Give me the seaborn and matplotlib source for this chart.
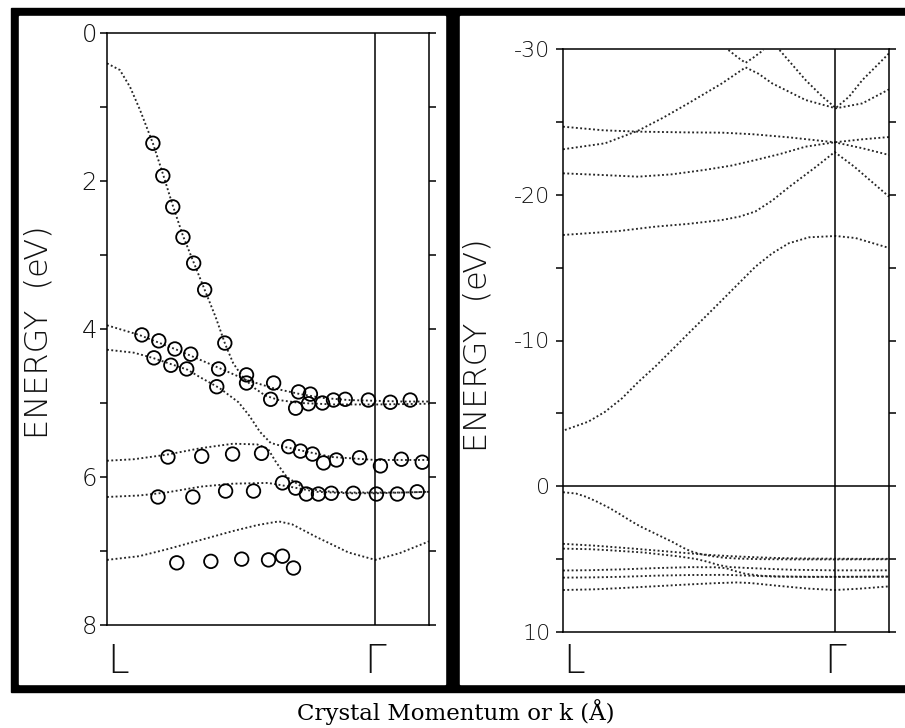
import numpy as np
import pandas as pd
import matplotlib
matplotlib.use("Agg")
import matplotlib.pyplot as plt
from matplotlib.patches import Rectangle
from matplotlib.ticker import MultipleLocator, FixedLocator
from matplotlib.transforms import blended_transform_factory
import seaborn as sns

# ---------------------------------------------------------------------------
# Band structure along L -> Gamma (k in units of the L-Gamma distance),
# energies in eV (binding-energy convention: positive = below the VBM).
# ---------------------------------------------------------------------------

# Valence bands (shared by both panels)
VB_STEEP_K = [0.0, 0.048, 0.086, 0.123, 0.171, 0.208, 0.245, 0.283, 0.323, 0.364,
              0.405, 0.44, 0.47, 0.50, 0.52, 0.55, 0.59, 0.64, 0.72, 0.85, 1.0, 1.2]
VB_STEEP_E = [0.41, 0.50, 0.73, 1.04, 1.49, 1.90, 2.33, 2.74, 3.10, 3.47,
              3.84, 4.20, 4.46, 4.62, 4.70, 4.80, 4.90, 4.96, 5.00, 5.02, 5.02, 5.01]

VB1_K = [0.0, 0.12, 0.26, 0.42, 0.52, 0.62, 0.72, 0.80, 0.90, 1.0, 1.1, 1.2]
VB1_E = [3.95, 4.08, 4.28, 4.53, 4.69, 4.80, 4.88, 4.93, 4.96, 4.97, 4.98, 4.98]

VB2_K = [0.0, 0.10, 0.17, 0.30, 0.346, 0.42, 0.49, 0.53, 0.57, 0.61, 0.67, 0.76, 0.84, 1.0, 1.2]
VB2_E = [4.28, 4.32, 4.39, 4.55, 4.65, 4.80, 4.99, 5.17, 5.39, 5.54, 5.60, 5.67, 5.73, 5.77, 5.77]

VB3_K = [0.0, 0.10, 0.22, 0.35, 0.47, 0.56, 0.60, 0.63, 0.67, 0.73, 0.80, 0.90, 1.0, 1.1, 1.2]
VB3_E = [5.78, 5.76, 5.70, 5.61, 5.55, 5.56, 5.62, 5.80, 6.00, 6.14, 6.19, 6.21, 6.21, 6.21, 6.20]

VB4_K = [0.0, 0.12, 0.22, 0.35, 0.47, 0.60, 0.68, 0.78, 0.90, 1.0, 1.1, 1.2]
VB4_E = [6.27, 6.25, 6.21, 6.13, 6.09, 6.08, 6.13, 6.20, 6.22, 6.22, 6.21, 6.20]

VB5_K = [0.0, 0.12, 0.22, 0.35, 0.47, 0.56, 0.64, 0.69, 0.78, 0.90, 1.0, 1.09, 1.2]
VB5_E = [7.12, 7.07, 6.98, 6.85, 6.73, 6.65, 6.60, 6.64, 6.81, 7.02, 7.12, 7.03, 6.87]

# Conduction bands (wide-range panel)
CB1_K = [0.007, 0.093, 0.155, 0.217, 0.278, 0.339, 0.401, 0.462, 0.524, 0.586,
         0.647, 0.708, 0.77, 0.831, 0.905, 1.004, 1.077, 1.2]
CB1_E = [-3.86, -4.43, -5.11, -6.03, -7.17, -8.20, -9.35, -10.49, -11.63, -12.78,
         -13.92, -15.06, -15.98, -16.67, -17.08, -17.17, -17.03, -16.35]

CB2_K = [0.0, 0.20, 0.339, 0.46, 0.586, 0.65, 0.708, 0.77, 0.83, 0.93, 1.0, 1.072, 1.2]
CB2_E = [-17.24, -17.50, -17.81, -18.00, -18.27, -18.50, -18.85, -19.60, -20.50, -21.90, -22.93, -21.93, -19.87]

CB3_K = [0.0, 0.15, 0.277, 0.40, 0.52, 0.62, 0.708, 0.80, 0.893, 1.0, 1.1, 1.2]
CB3_E = [-21.47, -21.35, -21.24, -21.40, -21.70, -22.00, -22.38, -22.80, -23.30, -23.60, -23.80, -23.96]

CB4_K = [0.0, 0.15, 0.277, 0.45, 0.586, 0.70, 0.831, 1.0, 1.1, 1.2]
CB4_E = [-24.67, -24.42, -24.33, -24.28, -24.26, -24.15, -23.94, -23.60, -23.20, -22.73]

CB5_K = [0.0, 0.155, 0.277, 0.37, 0.461, 0.585, 0.672, 0.72, 0.77, 0.893, 1.004, 1.102, 1.2]
CB5_E = [-23.12, -23.53, -24.40, -25.30, -26.27, -27.64, -28.74, -28.30, -27.64, -26.50, -25.93, -26.27, -27.23]

CB6_K = [0.609, 0.645, 0.672, 0.70, 0.738]
CB6_E = [-29.93, -29.40, -29.05, -29.40, -29.93]

CB7_K = [0.797, 0.893, 0.955, 1.004, 1.053, 1.102, 1.2]
CB7_E = [-29.93, -27.87, -26.73, -25.95, -26.73, -27.87, -29.70]

# Photoemission peak positions (open circles)
ARPES_K = [0.171, 0.208, 0.245, 0.283, 0.323, 0.364, 0.439,
           0.130, 0.193, 0.253, 0.312,
           0.175, 0.238, 0.297,
           0.416, 0.409,
           0.520, 0.520, 0.621, 0.610,
           0.714, 0.758, 0.703, 0.751, 0.803, 0.844, 0.888, 0.974, 1.056, 1.130,
           0.227, 0.353, 0.468, 0.576, 0.677, 0.721, 0.766, 0.807, 0.855, 0.941, 1.019, 1.097, 1.175,
           0.190, 0.320, 0.442, 0.546, 0.654, 0.703, 0.743, 0.788, 0.836, 0.918, 1.004, 1.082, 1.156,
           0.260, 0.387, 0.502, 0.602, 0.654, 0.695]
ARPES_E = [1.49, 1.93, 2.35, 2.76, 3.11, 3.47, 4.19,
           4.08, 4.16, 4.27, 4.34,
           4.39, 4.49, 4.54,
           4.54, 4.78,
           4.62, 4.73, 4.73, 4.95,
           4.85, 4.88, 5.07, 5.01, 5.00, 4.96, 4.95, 4.96, 4.99, 4.96,
           5.73, 5.72, 5.69, 5.68, 5.59, 5.65, 5.69, 5.81, 5.77, 5.74, 5.85, 5.76, 5.80,
           6.27, 6.27, 6.19, 6.19, 6.08, 6.15, 6.23, 6.23, 6.22, 6.22, 6.23, 6.23, 6.20,
           7.16, 7.14, 7.11, 7.12, 7.07, 7.23]

SYM_LABELS = ["L", "\u0393"]
SYM_K = [0.0, 1.0]

LEFT_YTICKS = [0, 2, 4, 6, 8]
RIGHT_YTICKS = [-30, -20, -10, 0, 10]

Y_LABEL = "ENERGY  (eV)"
X_LABEL = "Crystal Momentum or k (\u00c5)"


def band_frame(bands):
    rows = []
    for name, (ks, es) in bands.items():
        for k, e in zip(ks, es):
            rows.append({"band": name, "k": k, "E": e})
    return pd.DataFrame(rows)


valence = {
    "vb_steep": (VB_STEEP_K, VB_STEEP_E),
    "vb1": (VB1_K, VB1_E),
    "vb2": (VB2_K, VB2_E),
    "vb3": (VB3_K, VB3_E),
    "vb4": (VB4_K, VB4_E),
    "vb5": (VB5_K, VB5_E),
}
conduction = {
    "cb1": (CB1_K, CB1_E),
    "cb2": (CB2_K, CB2_E),
    "cb3": (CB3_K, CB3_E),
    "cb4": (CB4_K, CB4_E),
    "cb5": (CB5_K, CB5_E),
    "cb6": (CB6_K, CB6_E),
    "cb7": (CB7_K, CB7_E),
}
df_left = band_frame(valence)
df_right = band_frame({**valence, **conduction})
df_exp = pd.DataFrame({"k": ARPES_K, "E": ARPES_E})

sns.set_style("ticks")
plt.rcParams["font.family"] = ["DejaVu Sans"]
plt.rcParams["axes.unicode_minus"] = False
plt.rcParams["text.color"] = "#111111"
plt.rcParams["ytick.color"] = "black"
plt.rcParams["ytick.labelcolor"] = "#111111"

LABEL_WEIGHT = "light"

W, H = 905, 728
fig = plt.figure(figsize=(W / 100, H / 100), dpi=100, facecolor="white")


def fx(px):
    return px / W


def fy(py):
    return 1 - py / H


# Black mounting frame with two white panels
fig.add_artist(Rectangle((fx(11), fy(692)), fx(W - 11), (692 - 8) / H,
                         transform=fig.transFigure, color="black", zorder=-3))
fig.add_artist(Rectangle((fx(19), fy(684)), fx(445 - 19), (684 - 16) / H,
                         transform=fig.transFigure, color="white", zorder=-2))
fig.add_artist(Rectangle((fx(460), fy(684)), fx(W - 460), (684 - 16) / H,
                         transform=fig.transFigure, color="white", zorder=-2))

ax_l = fig.add_axes([fx(107), fy(625), fx(429 - 107), (625 - 33) / H])
ax_r = fig.add_axes([fx(563), fy(632), fx(889 - 563), (632 - 49) / H])

DOT = (0, (1.0, 1.3))
LINE_C = "#262626"

for ax, df in ((ax_l, df_left), (ax_r, df_right)):
    ax.set_facecolor("none")
    sns.lineplot(data=df, x="k", y="E", units="band", estimator=None, sort=False,
                 color=LINE_C, linestyle=DOT, linewidth=1.35, ax=ax, legend=False)
    ax.axvline(SYM_K[1], color="black", lw=1.1)
    ax.set_xlim(0, 1.2)
    ax.set_xticks([])
    ax.set_xlabel("")
    ax.set_ylabel("")
    for s in ax.spines.values():
        s.set_visible(True)
        s.set_linewidth(1.1)
        s.set_color("black")

# Photoemission data on the close-up panel
sns.scatterplot(data=df_exp, x="k", y="E", marker="o", s=95, color="black",
                edgecolor="black", linewidth=1.3, ax=ax_l, legend=False, zorder=3)
ax_l.collections[-1].set_facecolor("none")
ax_l.set_xlabel("")
ax_l.set_ylabel("")

ax_l.set_ylim(8, 0)
ax_l.yaxis.set_major_locator(FixedLocator(LEFT_YTICKS))
ax_l.set_yticklabels([str(t) for t in LEFT_YTICKS])
ax_l.yaxis.set_minor_locator(MultipleLocator(1))
ax_l.tick_params(axis="y", which="both", left=True, right=True, direction="out",
                 length=5, width=1.1, pad=2, labelsize=17.5, labelleft=True,
                 labelright=False)

ax_r.axhline(0, color="black", lw=1.1)
ax_r.set_ylim(10, -30)
ax_r.yaxis.set_major_locator(FixedLocator(RIGHT_YTICKS))
ax_r.set_yticklabels([str(t) for t in RIGHT_YTICKS])
ax_r.yaxis.set_minor_locator(MultipleLocator(5))
ax_r.tick_params(axis="y", which="both", left=True, right=True, direction="out",
                 length=5, width=1.1, pad=4, labelsize=16, labelleft=True,
                 labelright=False)

for ax in (ax_l, ax_r):
    for lab in ax.get_yticklabels():
        lab.set_fontweight(LABEL_WEIGHT)
    trans = blended_transform_factory(ax.transData, fig.transFigure)
    for name, k in zip(SYM_LABELS, SYM_K):
        ax.text(k, fy(673), name, transform=trans, ha="left" if k == 0 else "center",
                va="baseline", fontsize=28, fontweight=LABEL_WEIGHT)

fig.text(fx(39), fy(332), Y_LABEL, rotation=90, ha="center", va="center",
         fontsize=23, fontweight=LABEL_WEIGHT)
fig.text(fx(477), fy(345), Y_LABEL, rotation=90, ha="center", va="center",
         fontsize=23, fontweight=LABEL_WEIGHT)

fig.text(fx(456), fy(720), X_LABEL, ha="center", va="baseline",
         fontsize=16.5, family="DejaVu Serif", color="black")

fig.savefig("out.png", dpi=100, facecolor="white")
